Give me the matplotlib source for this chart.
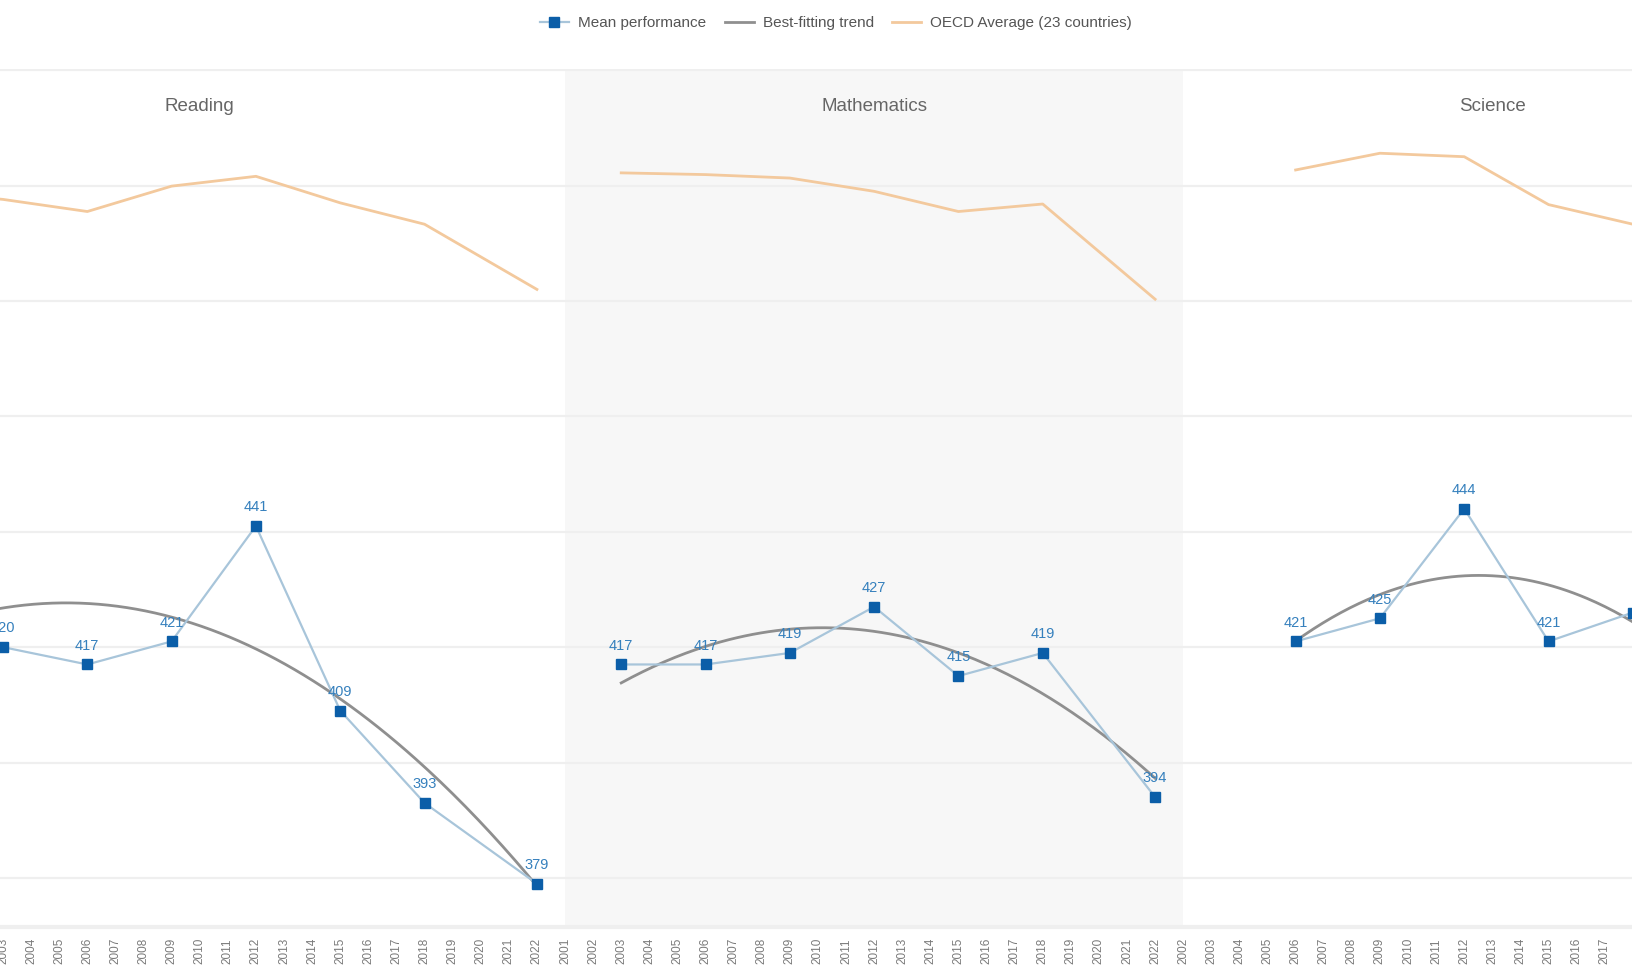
import numpy as np
import matplotlib.pyplot as plt
import matplotlib.transforms as mtransforms

plt.rcParams['font.family'] = ['Liberation Sans', 'DejaVu Sans']

# PISA results by subject (mean performance, OECD average)
reading_years = [2000, 2003, 2006, 2009, 2012, 2015, 2018, 2022]
reading_mean = [431, 420, 417, 421, 441, 409, 393, 379]
reading_oecd = [499.0, 497.6, 495.5, 499.9, 501.6, 497.0, 493.3, 482.0]

math_years = [2003, 2006, 2009, 2012, 2015, 2018, 2022]
math_mean = [417, 417, 419, 427, 415, 419, 394]
math_oecd = [502.2, 501.9, 501.3, 499.0, 495.5, 496.8, 480.3]

science_years = [2006, 2009, 2012, 2015, 2018, 2022]
science_mean = [421, 425, 444, 421, 426, 409]
science_oecd = [502.7, 505.6, 505.0, 496.7, 493.3, 485.0]

subjects = ['Reading', 'Mathematics', 'Science']
grid_values = [380, 400, 420, 440, 460, 480, 500, 520]

# layout: each panel is placed on one shared axis, one slot per year
offsets = [-2003, -1981, -1960]
bands = [(-6, 20), (20, 42), (42, 64)]
title_pos = [7, 31, 53]

MEAN_COL = '#0b5ea8'
MEAN_LINE = '#a8c5da'
LABEL_COL = '#3580bd'
TREND_COL = '#8f8f8f'
OECD_COL = '#f3c99d'

fig = plt.figure(figsize=(16.32, 9.75), dpi=100)
ax = fig.add_axes([0, 48 / 975, 1, 858 / 975])
ax.set_xlim(-0.107, 57.97)
ax.set_ylim(371.5, 520.2)

ax.axvspan(bands[1][0], bands[1][1], color='#f7f7f7', lw=0, zorder=0)
for v in grid_values:
    ax.axhline(v, color='#efefef', lw=1.6, zorder=1)

data = [
    (reading_years, reading_mean, reading_oecd),
    (math_years, math_mean, math_oecd),
    (science_years, science_mean, science_oecd),
]

blend = mtransforms.blended_transform_factory(ax.transData, ax.transAxes)

for name, (years, mean, oecd), off, tx in zip(subjects, data, offsets, title_pos):
    yrs = np.array(years)
    u = yrs + off
    oecd_line, = ax.plot(u, oecd, color=OECD_COL, lw=2, zorder=2)

    # best-fitting (quadratic) trend through the mean scores
    coef = np.polyfit(yrs, mean, 2)
    tt = np.linspace(yrs[0], yrs[-1], 200)
    trend_line, = ax.plot(tt + off, np.polyval(coef, tt), color=TREND_COL, lw=2, zorder=3)

    mean_line, = ax.plot(u, mean, color=MEAN_LINE, lw=1.6, marker='s', ms=6.5,
                         mfc=MEAN_COL, mec=MEAN_COL, zorder=4)
    for x, y in zip(u, mean):
        ax.annotate(str(y), (x, y), xytext=(0, 13.5), textcoords='offset points',
                    ha='center', va='center', fontsize=10.5, color=LABEL_COL, zorder=5)

    ax.text(tx, 0.956, name, transform=blend, ha='center', va='center',
            fontsize=13.5, color='#666666')

# x tick labels: one per year slot
ticks = list(range(0, 58))
tick_labels = []
for t in ticks:
    if t < bands[0][1]:
        tick_labels.append(str(t - offsets[0]))
    elif t < bands[1][1]:
        tick_labels.append(str(t - offsets[1]))
    else:
        tick_labels.append(str(t - offsets[2]))
ax.set_xticks(ticks)
ax.set_xticklabels(tick_labels, rotation=90, fontsize=8.5, color='#7a7a7a')
ax.tick_params(axis='x', length=0, pad=8)
ax.set_yticks(grid_values)
ax.tick_params(axis='y', length=0, labelleft=False)

for side in ['top', 'left', 'right']:
    ax.spines[side].set_visible(False)
ax.spines['bottom'].set_color('#efefef')
ax.spines['bottom'].set_linewidth(3)

fig.legend([mean_line, trend_line, oecd_line],
           ['Mean performance', 'Best-fitting trend', 'OECD Average (23 countries)'],
           loc='center', bbox_to_anchor=(836 / 1632, 1 - 23 / 975), ncol=3,
           frameon=False, fontsize=11, handlelength=1.9, handletextpad=0.6,
           columnspacing=1.2, labelcolor='#555555')

fig.savefig('out.png', dpi=100, facecolor='white')
